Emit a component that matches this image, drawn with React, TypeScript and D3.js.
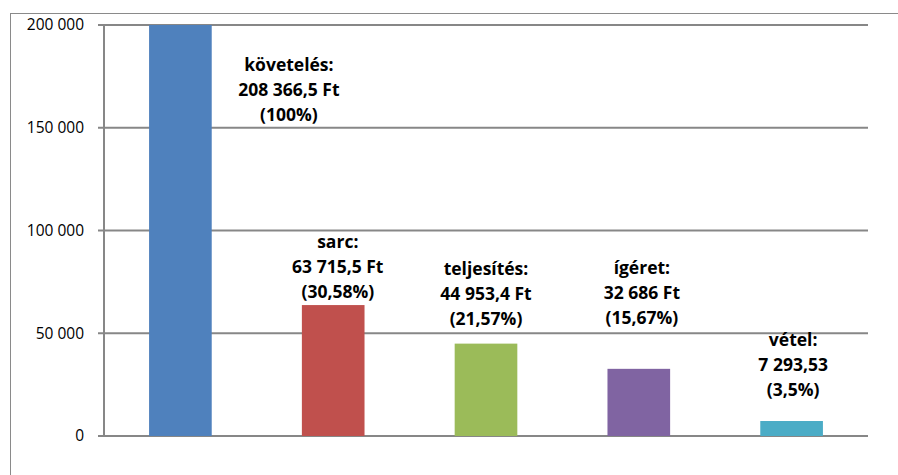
import React from "react";
import * as d3 from "d3";

const categories = ["követelés", "sarc", "teljesítés", "ígéret", "vétel"];
const values = [208366.5, 63715.5, 44953.4, 32686, 7293.53];
const valueLabels = ["208 366,5 Ft", "63 715,5 Ft", "44 953,4 Ft", "32 686 Ft", "7 293,53"];
const percentLabels = ["(100%)", "(30,58%)", "(21,57%)", "(15,67%)", "(3,5%)"];
const colors = ["#4F81BD", "#C0504D", "#9BBB59", "#8064A2", "#4BACC6"];
const yTicks = [0, 50000, 100000, 150000, 200000];
// label anchor (first line centre) in data units, and horizontal shift in band fractions
const labelTopValue = [180500, 94500, 81300, 81700, 46700];
const labelShift = [0.71, 0.03, 0.0, 0.02, 0.01];

const W = 898;
const H = 475;
const margin = { left: 104, right: 30, top: 25, bottom: 39 };

export default function App() {
  const x = d3
    .scaleBand<string>()
    .domain(categories)
    .range([margin.left, W - margin.right])
    .paddingInner(0.59)
    .paddingOuter(0.295);
  const y = d3
    .scaleLinear()
    .domain([0, 200000])
    .range([H - margin.bottom, margin.top])
    .clamp(true);
  const fmt = (v: number) => d3.format(",")(v).replace(/,/g, " ");
  const step = x.step();
  const font = "'Open Sans', 'Liberation Sans', sans-serif";

  return (
    <svg
      width={W}
      height={H}
      style={{ position: "absolute", left: 0, top: 0, background: "#fff" }}
    >
      <rect x={10.5} y={13.5} width={900} height={480} fill="#fff" stroke="#8a8a8a" strokeWidth={1} />
      {yTicks.map((t) => (
        <g key={t}>
          <line
            x1={margin.left - 6}
            x2={W - margin.right}
            y1={y(t)}
            y2={y(t)}
            stroke="#878787"
            strokeWidth={2}
          />
          <text
            x={84}
            y={y(t)}
            dy="0.35em"
            textAnchor="end"
            fontFamily={font}
            fontSize={15.5}
            fill="#000"
          >
            {fmt(t)}
          </text>
        </g>
      ))}
      <line
        x1={margin.left}
        x2={margin.left}
        y1={margin.top}
        y2={H - margin.bottom}
        stroke="#878787"
        strokeWidth={2}
      />
      {categories.map((c, i) => (
        <rect
          key={c}
          x={x(c)}
          y={y(values[i])}
          width={x.bandwidth()}
          height={y(0) - y(values[i])}
          fill={colors[i]}
        />
      ))}
      {categories.map((c, i) => {
        const cx = (x(c) as number) + x.bandwidth() / 2 + labelShift[i] * step;
        const top = y(labelTopValue[i]);
        const lines = [c + ":", valueLabels[i], percentLabels[i]];
        return (
          <text
            key={c}
            textAnchor="middle"
            fontFamily={font}
            fontWeight="bold"
            fontSize={17.5}
            fill="#000"
          >
            {lines.map((l, j) => (
              <tspan key={j} x={cx} y={top + j * 25} dy="0.35em">
                {l}
              </tspan>
            ))}
          </text>
        );
      })}
    </svg>
  );
}
